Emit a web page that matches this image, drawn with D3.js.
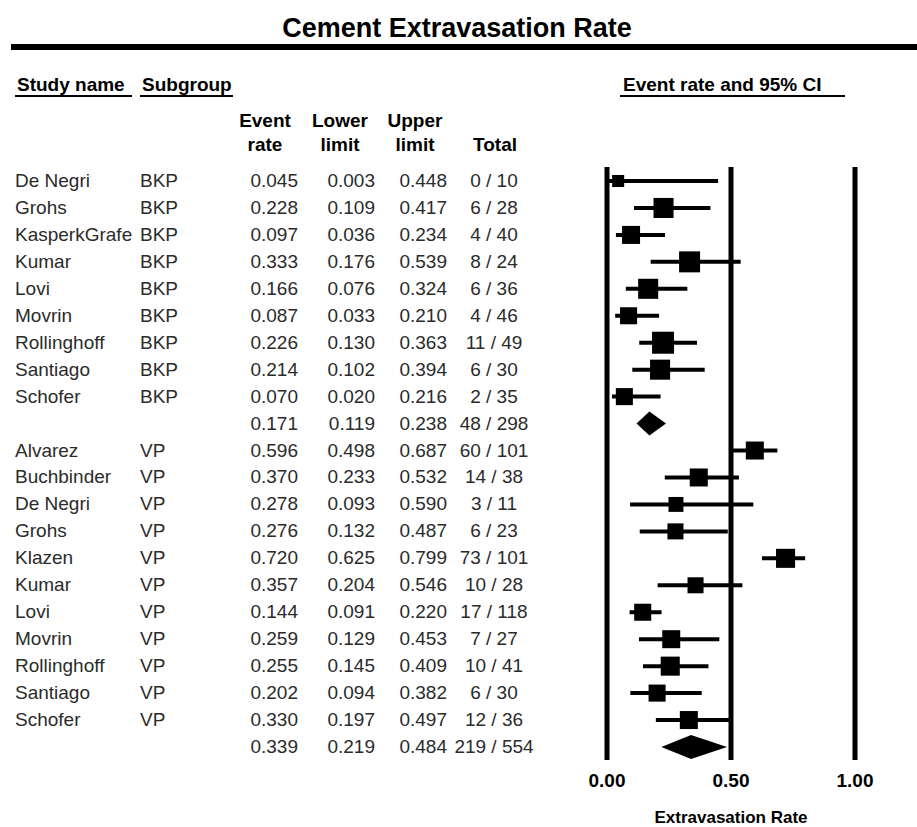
<!DOCTYPE html>
<html>
<head>
<meta charset="utf-8">
<script src="https://cdn.jsdelivr.net/npm/d3@7"></script>
<style>
  body { margin: 0; background: #fff; }
  svg { display: block; font-family: "Liberation Sans", Arial, sans-serif; }
  .hdr { font-weight: bold; fill: #000; }
  .cell { fill: #2b2b2b; font-size: 19px; }
</style>
</head>
<body>
<div class="forest-container"></div>
<script>
// rows top to bottom, summary rows have empty name
var studies = ["De Negri","Grohs","KasperkGrafe","Kumar","Lovi","Movrin","Rollinghoff","Santiago","Schofer","",
  "Alvarez","Buchbinder","De Negri","Grohs","Klazen","Kumar","Lovi","Movrin","Rollinghoff","Santiago","Schofer",""];
var subgroups = ["BKP","BKP","BKP","BKP","BKP","BKP","BKP","BKP","BKP","",
  "VP","VP","VP","VP","VP","VP","VP","VP","VP","VP","VP",""];
var eventRate = [0.045,0.228,0.097,0.333,0.166,0.087,0.226,0.214,0.070,0.171,
  0.596,0.370,0.278,0.276,0.720,0.357,0.144,0.259,0.255,0.202,0.330,0.339];
var lowerLimit = [0.003,0.109,0.036,0.176,0.076,0.033,0.130,0.102,0.020,0.119,
  0.498,0.233,0.093,0.132,0.625,0.204,0.091,0.129,0.145,0.094,0.197,0.219];
var upperLimit = [0.448,0.417,0.234,0.539,0.324,0.210,0.363,0.394,0.216,0.238,
  0.687,0.532,0.590,0.487,0.799,0.546,0.220,0.453,0.409,0.382,0.497,0.484];
var totals = ["0 / 10","6 / 28","4 / 40","8 / 24","6 / 36","4 / 46","11 / 49","6 / 30","2 / 35","48 / 298",
  "60 / 101","14 / 38","3 / 11","6 / 23","73 / 101","10 / 28","17 / 118","7 / 27","10 / 41","6 / 30","12 / 36","219 / 554"];
// relative weight (box area), largest = 100
var relWeight = [30,83,67,91,83,60,100,83,60,0,
  67,67,46,53,75,53,60,67,75,60,67,0];
var summaryRows = [9, 21];
var xTicks = [0, 0.5, 1];

var width = 917, height = 827;

var svg = d3.select('.forest-container')
  .append('svg')
  .attr('width', width)
  .attr('height', height);

var x = d3.scaleLinear().domain([0, 1]).range([607, 855]);
var y = d3.scaleLinear().domain([0, studies.length - 1]).range([181, 747]);
var box = d3.scaleSqrt().domain([0, 100]).range([0, 22]);

// title + thick rule
svg.append("text")
  .attr("class", "hdr")
  .attr("x", 457).attr("y", 37)
  .attr("text-anchor", "middle")
  .style("font-size", "27px")
  .text("Cement Extravasation Rate");

svg.append("rect")
  .attr("x", 11).attr("y", 44)
  .attr("width", width - 11).attr("height", 6)
  .attr("fill", "#000");

// underlined headers
var topHeaders = [
  {t: "Study name", x: 17, x1: 15, x2: 132},
  {t: "Subgroup", x: 142, x1: 140, x2: 233},
  {t: "Event rate and 95% CI", x: 623, x1: 620, x2: 845}
];
topHeaders.forEach(function(h){
  svg.append("text").attr("class", "hdr")
    .attr("x", h.x).attr("y", 91)
    .style("font-size", "19px")
    .text(h.t);
  svg.append("line")
    .attr("x1", h.x1).attr("x2", h.x2)
    .attr("y1", 96).attr("y2", 96)
    .attr("stroke", "#000").attr("stroke-width", 2);
});

var colHeaders = [
  {l1: "Event", l2: "rate", x: 265},
  {l1: "Lower", l2: "limit", x: 340},
  {l1: "Upper", l2: "limit", x: 415},
  {l1: "", l2: "Total", x: 495}
];
colHeaders.forEach(function(h){
  svg.append("text").attr("class", "hdr")
    .attr("x", h.x).attr("y", 127)
    .attr("text-anchor", "middle")
    .style("font-size", "19px").text(h.l1);
  svg.append("text").attr("class", "hdr")
    .attr("x", h.x).attr("y", 151)
    .attr("text-anchor", "middle")
    .style("font-size", "19px").text(h.l2);
});

// table cells
var fmt = d3.format(".3f");
var rows = svg.append("g").selectAll("g")
  .data(d3.range(studies.length))
  .enter().append("g")
  .attr("transform", function(i){ return "translate(0," + (y(i) + 6) + ")"; });

rows.append("text").attr("class", "cell").attr("x", 15).text(function(i){ return studies[i]; });
rows.append("text").attr("class", "cell").attr("x", 140).text(function(i){ return subgroups[i]; });
rows.append("text").attr("class", "cell").attr("x", 298).attr("text-anchor", "end")
  .text(function(i){ return fmt(eventRate[i]); });
rows.append("text").attr("class", "cell").attr("x", 375).attr("text-anchor", "end")
  .text(function(i){ return fmt(lowerLimit[i]); });
rows.append("text").attr("class", "cell").attr("x", 447).attr("text-anchor", "end")
  .text(function(i){ return fmt(upperLimit[i]); });
rows.append("text").attr("class", "cell").attr("x", 494).attr("text-anchor", "middle")
  .text(function(i){ return totals[i]; });

// reference lines
svg.append("g").selectAll("line")
  .data(xTicks).enter().append("line")
  .attr("x1", function(d){ return x(d); })
  .attr("x2", function(d){ return x(d); })
  .attr("y1", 167).attr("y2", 760)
  .attr("stroke", "#000").attr("stroke-width", 5);

svg.append("g").selectAll("text")
  .data(xTicks).enter().append("text")
  .attr("class", "hdr")
  .attr("x", function(d){ return x(d); })
  .attr("y", 787)
  .attr("text-anchor", "middle")
  .style("font-size", "19px")
  .text(function(d){ return d3.format(".2f")(d); });

svg.append("text").attr("class", "hdr")
  .attr("x", x(0.5)).attr("y", 823)
  .attr("text-anchor", "middle")
  .style("font-size", "17px")
  .text("Extravasation Rate");

// study CIs and boxes
var studyIdx = d3.range(studies.length).filter(function(i){ return summaryRows.indexOf(i) < 0; });

var marks = svg.append("g");
marks.selectAll(".ci")
  .data(studyIdx).enter().append("line")
  .attr("class", "ci")
  .attr("x1", function(i){ return x(lowerLimit[i]); })
  .attr("x2", function(i){ return x(upperLimit[i]); })
  .attr("y1", function(i){ return y(i); })
  .attr("y2", function(i){ return y(i); })
  .attr("stroke", "#000").attr("stroke-width", 4);

marks.selectAll(".box")
  .data(studyIdx).enter().append("rect")
  .attr("class", "box")
  .attr("x", function(i){ return x(eventRate[i]) - box(relWeight[i]) / 2; })
  .attr("y", function(i){ return y(i) - box(relWeight[i]) / 2; })
  .attr("width", function(i){ return box(relWeight[i]); })
  .attr("height", function(i){ return box(relWeight[i]); })
  .attr("fill", "#000");

// subgroup summary diamonds
marks.selectAll(".diamond")
  .data(summaryRows).enter().append("path")
  .attr("class", "diamond")
  .attr("d", function(i){
    var h = 12;
    return "M" + x(lowerLimit[i]) + "," + y(i) +
      "L" + x(eventRate[i]) + "," + (y(i) - h) +
      "L" + x(upperLimit[i]) + "," + y(i) +
      "L" + x(eventRate[i]) + "," + (y(i) + h) + "Z";
  })
  .attr("fill", "#000");
</script>
</body>
</html>
